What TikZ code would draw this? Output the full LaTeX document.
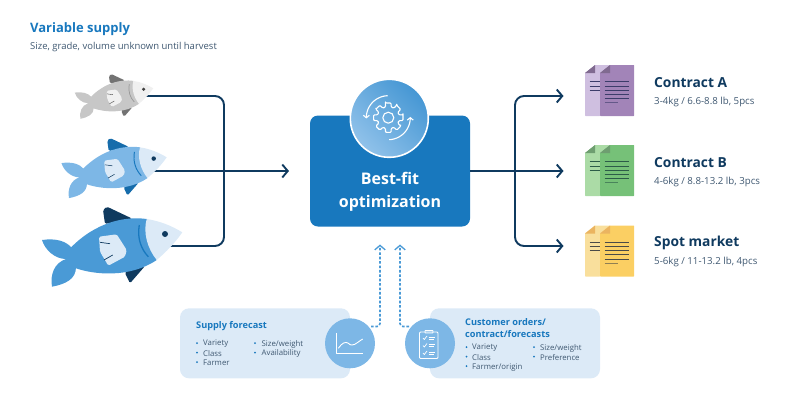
\documentclass[tikz,border=0pt]{standalone}
\usepackage{fontspec}
\setmainfont{Open Sans}
\usetikzlibrary{arrows.meta}

\definecolor{navy}{HTML}{0F3A5F}
\definecolor{hubblue}{HTML}{1878BE}
\definecolor{dashblue}{HTML}{4A9AD6}
\definecolor{panelblue}{HTML}{DCEAF7}
\definecolor{iconblue}{HTML}{7DB7E6}
\definecolor{greytext}{HTML}{3F5871}
\definecolor{purplelight}{HTML}{CFBFE0}
\definecolor{purplemain}{HTML}{A284B8}
\definecolor{purplefold}{HTML}{806A90}
\definecolor{purpleline}{HTML}{3C3C6A}
\definecolor{greenlight}{HTML}{ABDBA6}
\definecolor{greenmain}{HTML}{76C178}
\definecolor{greenfold}{HTML}{6E9E70}
\definecolor{greenline}{HTML}{2C5C48}
\definecolor{yellowlight}{HTML}{F9DF9C}
\definecolor{yellowmain}{HTML}{FBCF63}
\definecolor{yellowfold}{HTML}{EBB460}
\definecolor{yellowline}{HTML}{4A4A48}

\tikzset{
    flow/.style={draw=navy, line width=1.9pt, rounded corners=9pt},
    flowtip/.style={-{Straight Barb[length=5.5pt,width=13pt,line width=1.9pt]}},
    feed/.style={draw=dashblue, line width=1.6pt, dash pattern=on 2.6pt off 1.8pt, rounded corners=3pt},
    feedtip/.style={-{Straight Barb[length=4.5pt,width=10.5pt,line width=1.3pt]}},
    title/.style={anchor=west, inner sep=0pt, font=\bfseries\fontsize{13.8}{15}\selectfont, text=navy},
    subtitle/.style={anchor=west, inner sep=0pt, font=\fontsize{9.7}{11}\selectfont, text=greytext},
    panelhead/.style={anchor=west, inner sep=0pt, align=left, font=\bfseries\fontsize{9.2}{12}\selectfont, text=hubblue},
    item/.style={anchor=west, inner sep=0pt, font=\fontsize{7.8}{10}\selectfont, text=greytext},
    panel/.style={fill=panelblue, rounded corners=9pt},
    badge/.style={circle, fill=iconblue, minimum size=50pt, inner sep=0pt},
    icon/.style={draw=white, line width=0.9pt, line join=round},
}

% x, y of the nose, scale, body, fin, head, gill, eye
\newcommand{\drawfish}[8]{
    \begin{scope}[shift={(#1,#2)}, scale=#3, shift={(-182.3,-232.3)}]
        \fill[#5, rounded corners=1.5pt] (105,224) -- (103,210) -- (107,206.7) -- (132,218.5) -- cycle;
        \fill[#5, rounded corners=1.5pt] (145,266) -- (130,283.3) -- (125,273) -- (128,268) -- cycle;
        \fill[#4] (72,248) .. controls (66,241) and (56,238) .. (42,240)
            .. controls (45,250) and (55,259) .. (66,259)
            .. controls (54,263) and (50,275) .. (52,286.7)
            .. controls (66,284) and (76,279) .. (76,267) -- cycle;
        \fill[#4] (146.7,219) .. controls (125,216) and (96,222) .. (70.7,247.7)
            -- (75,268) .. controls (95,275) and (130,278) .. (156.7,260) -- cycle;
        \fill[#6] (146.7,219) .. controls (160,221) and (172,226) .. (182.3,232.3)
            .. controls (175,243) and (166,252) .. (156.7,260)
            .. controls (147,248) and (143,232) .. (146.7,219) -- cycle;
        \draw[#7, line width={1.3pt*#3}] (139.3,225) .. controls (137,238) and (141,249) .. (148.3,256.7);
        \fill[#6, rounded corners=1.5pt] (99,236.7) -- (116.7,234.3) -- (126.7,250) -- (125,256.7) -- (108.3,265.7) -- (100,251.7) -- cycle;
        \draw[#8, line width={0.7pt*#3}] (100,242.3) -- (110,243.7) (104,260) -- (112.7,255);
        \fill[#8] (165,234) circle (3);
    \end{scope}
}

% top y, light page, main page, fold, text lines
\newcommand{\drawdoc}[5]{
    \begin{scope}[shift={(0,#1)}]
        \fill[#2, rounded corners=0.5pt] (585,73) -- (595,65) -- (610,65) -- (600,73) -- (600,116) -- (585,116) -- cycle;
        \fill[#3, rounded corners=0.5pt] (600,73) -- (610,65) -- (634,65) -- (634,116) -- (600,116) -- cycle;
        \fill[#4] (585,73) -- (595,65) -- (595,73) -- cycle;
        \fill[#4] (600,73) -- (610,65) -- (610,73) -- cycle;
        \foreach \y in {81.7,86,90.3} {
            \draw[#5, line width=0.8pt] (589.5,\y) -- (600,\y);
        }
        \foreach \y in {81.7,86,90,94.2,98.4} {
            \draw[#5, line width=0.8pt] (604.5,\y) -- (629,\y);
        }
        \draw[#5, opacity=0.6, line width=0.8pt] (604.5,102.6) -- (618,102.6);
    \end{scope}
}

\begin{document}
\begin{tikzpicture}[x=1pt, y=-1pt]
    \useasboundingbox (0,0) rectangle (800,400);

    % Heading
    \node[title, text=hubblue, font=\bfseries\fontsize{13}{15}\selectfont] (supplyhead) at (30,29.5) {Variable supply};
    \node[subtitle, font=\fontsize{9.5}{11}\selectfont] (supplysub) at (30,47) {Size, grade, volume unknown until harvest};

    % Lines into the hub
    \coordinate (fishtop) at (140,96);
    \coordinate (fishmid) at (150,171);
    \coordinate (fishbot) at (165,246);
    \coordinate (trunkin) at (224,171);
    \coordinate (hubin) at (289,171);
    \draw[flow] (fishtop) -- (fishtop -| trunkin) -- (fishbot -| trunkin) -- (fishbot);
    \draw[flow, flowtip] (fishmid) -- (hubin);

    % Fish
    \drawfish{153.3}{88.3}{0.56}{black!22!white}{black!55!white}{black!6!white}{black!40!white}{black!75!white}
    \drawfish{166.7}{157.3}{0.75}{iconblue}{hubblue!80!navy}{panelblue}{hubblue}{navy}
    \drawfish{182.3}{232.3}{1}{dashblue}{navy}{panelblue}{hubblue}{navy}

    % Hub
    \node[fill=hubblue, rounded corners=8pt, minimum width=160pt, minimum height=111pt, inner sep=0pt] (hub) at (390,171) {};
    \node[circle, draw=white, line width=1.6pt, left color=dashblue!90!hubblue, right color=iconblue!85!white, shading angle=-45, minimum size=78pt, inner sep=0pt] (hubbadge) at (389.3,118.3) {};
    \node[inner sep=0pt, text=white, align=center, font=\bfseries\fontsize{16}{22.7}\selectfont] (hubtext) at (390,192) {Best-fit\\optimization};

    % Gear icon
    \begin{scope}[shift={(388.3,117.7)}, icon/.append style={line width=1.1pt}]
        \draw[icon, rounded corners=1pt]
            (-11:15)
            \foreach \a in {0,45,...,315} {
                -- ({\a-11}:15) -- ({\a+11}:15) -- ({\a+15}:11) -- ({\a+30}:11) -- ({\a+34}:15)
            } -- cycle;
        \draw[icon] (0,0) circle (5.5);
        \draw[icon, -{Straight Barb[length=2.5pt,width=6pt]}] plot[domain=268:178, samples=20] ({22*cos(\x)},{22*sin(\x)});
        \draw[icon, -{Straight Barb[length=2.5pt,width=6pt]}] plot[domain=88:-2, samples=20] ({22*cos(\x)},{22*sin(\x)});
    \end{scope}

    % Lines out of the hub
    \coordinate (trunkout) at (515,171);
    \coordinate (docatip) at (563.5,96);
    \coordinate (docbtip) at (563.5,171);
    \coordinate (docctip) at (563.5,246);
    \draw[flow, flowtip] (trunkout) -- (trunkout |- docatip) -- (docatip);
    \draw[flow, flowtip] (trunkout) -- (trunkout |- docctip) -- (docctip);
    \draw[flow, flowtip] (hub.east) -- (docbtip);

    % Documents
    \drawdoc{0}{purplelight}{purplemain}{purplefold}{purpleline}
    \drawdoc{80}{greenlight}{greenmain}{greenfold}{greenline}
    \drawdoc{160.5}{yellowlight}{yellowmain}{yellowfold}{yellowline}

    \node[title] (conahead) at (654,82.5) {Contract A};
    \node[subtitle] (conasub) at (654,102) {3-4kg / 6.6-8.8 lb, 5pcs};
    \node[title] (conbhead) at (654,162.5) {Contract B};
    \node[subtitle] (conbsub) at (654,181.5) {4-6kg / 8.8-13.2 lb, 3pcs};
    \node[title] (spothead) at (654,242.5) {Spot market};
    \node[subtitle] (spotsub) at (654,261.5) {5-6kg / 11-13.2 lb, 4pcs};

    % Supply forecast
    \fill[panel] (180,308.3) rectangle (350,378.3);
    \node[panelhead] (supplyfc) at (196,326) {Supply forecast};
    \foreach \t [count=\i] in {Variety,Class,Farmer} {
        \fill[hubblue] (197,343+9.6*\i-9.6) circle (1);
        \node[item] (supplya\i) at (203,344+9.6*\i-9.6) {\t};
    }
    \foreach \t [count=\i] in {Size/weight,Availability} {
        \fill[hubblue] (255,343+9.6*\i-9.6) circle (1);
        \node[item] (supplyb\i) at (261.5,344+9.6*\i-9.6) {\t};
    }
    \node[badge] (chartbadge) at (350,343.3) {};
    \draw[icon] (336.7,333.3) -- (336.7,353.3) -- (363.3,353.3);
    \draw[icon] (338.3,348.3) .. controls (342,343) and (345,341.5) .. (348,343) .. controls (353,348) and (356,343) .. (362.7,339);

    % Customer orders
    \fill[panel] (430,308.3) rectangle (600,378.3);
    \node[panelhead] (orderfc) at (465,328.5) {Customer orders/\\contract/forecasts};
    \foreach \t [count=\i] in {Variety,Class,Farmer/origin} {
        \fill[hubblue] (466.5,347+9.6*\i-9.6) circle (1);
        \node[item] (ordera\i) at (472,348+9.6*\i-9.6) {\t};
    }
    \foreach \t [count=\i] in {Size/weight,Preference} {
        \fill[hubblue] (534,347+9.6*\i-9.6) circle (1);
        \node[item] (orderb\i) at (540,348+9.6*\i-9.6) {\t};
    }
    \node[badge] (clipbadge) at (430,343.3) {};
    \draw[icon, rounded corners=1pt] (419.5,332) rectangle (438,358.5);
    \draw[icon, rounded corners=0.5pt] (425,333) -- (425,330.5) -- (433,330.5) -- (433,333) -- cycle;
    \foreach \y in {338,345.5,353} {
        \draw[icon, line width=0.7pt] (423,\y) -- (424.3,\y+1.5) -- (427,\y-2);
        \draw[icon, line width=0.7pt] (428.5,\y-1) -- (435,\y-1) (428.5,\y+1) -- (434,\y+1);
    }

    % Dashed feeds into the hub
    \coordinate (feedatip) at (380,244.5);
    \coordinate (feedbtip) at (400,244.5);
    \coordinate (feedaend) at (371,326.5);
    \coordinate (feedbend) at (409,326.5);
    \draw[feed, feedtip] (feedaend) -- (feedaend -| feedatip) -- (feedatip);
    \draw[feed, feedtip] (feedbend) -- (feedbend -| feedbtip) -- (feedbtip);

\end{tikzpicture}
\end{document}
